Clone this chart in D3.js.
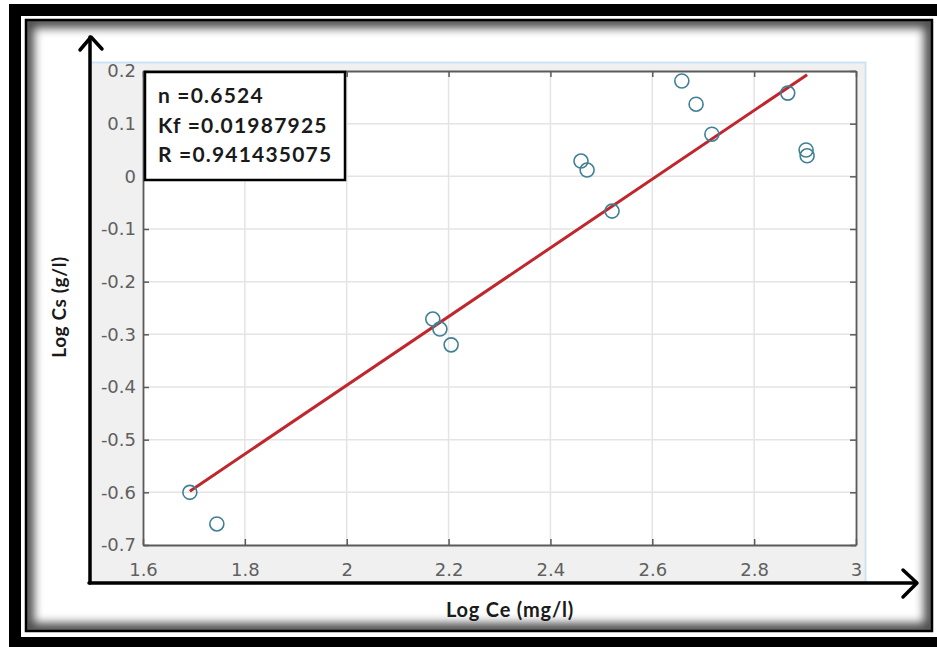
<!DOCTYPE html>
<html>
<head>
<meta charset="utf-8">
<script src="https://cdn.jsdelivr.net/npm/d3@7"></script>
<style>
  html, body { margin: 0; padding: 0; background: #fff; }
  svg { display: block; }
</style>
</head>
<body>
<svg id="chart"></svg>
<script>
// data
const logCe = [1.692, 1.745, 2.169, 2.183, 2.205, 2.460, 2.472, 2.521, 2.658, 2.686, 2.717, 2.866, 2.902, 2.904];
const logCs = [-0.600, -0.660, -0.271, -0.290, -0.320, 0.029, 0.012, -0.066, 0.181, 0.137, 0.080, 0.158, 0.050, 0.039];

const xTicks = [1.6, 1.8, 2, 2.2, 2.4, 2.6, 2.8, 3];
const yTicks = [-0.7, -0.6, -0.5, -0.4, -0.3, -0.2, -0.1, 0, 0.1, 0.2];

// freundlich fit
const fitN = 0.6524;
const fitKf = 0.01987925;
const fitR = 0.941435075;
const infoLines = ["n =" + fitN, "Kf =" + fitKf, "R =" + fitR];

const W = 937, H = 647;
const plot = { left: 143, right: 856, top: 71, bottom: 545 };

const svg = d3.select("#chart").attr("width", W).attr("height", H);
const defs = svg.append("defs");

// outer frame
svg.append("rect").attr("x", 9).attr("y", 4).attr("width", W - 9).attr("height", H - 4).attr("fill", "#000");
svg.append("rect").attr("x", 21).attr("y", 16).attr("width", W - 21).attr("height", 621).attr("fill", "#fff");

// inner frame with inset shadow
defs.append("clipPath").attr("id", "inner")
    .append("rect").attr("x", 27).attr("y", 21).attr("width", 904).attr("height", 609);
defs.append("filter").attr("id", "blur").attr("x", "-10%").attr("y", "-10%").attr("width", "120%").attr("height", "120%")
    .append("feGaussianBlur").attr("stdDeviation", 5);
svg.append("g").attr("clip-path", "url(#inner)")
    .append("rect").attr("x", 27).attr("y", 21).attr("width", 904).attr("height", 609)
    .attr("fill", "none").attr("stroke", "#000").attr("stroke-opacity", 0.7).attr("stroke-width", 14)
    .attr("filter", "url(#blur)");
svg.append("rect").attr("x", 26).attr("y", 20).attr("width", 906).attr("height", 611)
    .attr("fill", "none").attr("stroke", "#000").attr("stroke-width", 2.5);

// figure background (matlab grey)
svg.append("rect").attr("x", 91).attr("y", 62).attr("width", 775).attr("height", 520)
    .attr("fill", "#f0f0f0");
svg.append("path").attr("d", "M91,62.5H865.5V582")
    .attr("fill", "none").attr("stroke", "#cde3f3").attr("stroke-width", 2);

const x = d3.scaleLinear().domain([1.6, 3]).range([plot.left, plot.right]);
const y = d3.scaleLinear().domain([-0.7, 0.2]).range([plot.bottom, plot.top]);

svg.append("rect").attr("x", plot.left).attr("y", plot.top)
    .attr("width", plot.right - plot.left).attr("height", plot.bottom - plot.top).attr("fill", "#fff");

// grid
const grid = svg.append("g").attr("stroke", "#e4e4e4").attr("stroke-width", 1.5);
grid.selectAll(".gx").data(xTicks.slice(1, -1)).join("line")
    .attr("x1", d => x(d)).attr("x2", d => x(d)).attr("y1", plot.top).attr("y2", plot.bottom);
grid.selectAll(".gy").data(yTicks.slice(1, -1)).join("line")
    .attr("y1", d => y(d)).attr("y2", d => y(d)).attr("x1", plot.left).attr("x2", plot.right);

// axes (ticks inward, box on)
const tickFont = "'DejaVu Sans', sans-serif";
const axCol = "#5a5a5a";
const xAxis = svg.append("g").attr("transform", `translate(0,${plot.bottom})`)
    .call(d3.axisBottom(x).tickValues(xTicks).tickSizeInner(-6).tickSizeOuter(0).tickPadding(18).tickFormat(d3.format("")));
const yAxis = svg.append("g").attr("transform", `translate(${plot.left},0)`)
    .call(d3.axisLeft(y).tickValues(yTicks).tickSizeInner(-6).tickSizeOuter(0).tickPadding(7).tickFormat(d3.format("")));
const xTop = svg.append("g").attr("transform", `translate(0,${plot.top})`)
    .call(d3.axisTop(x).tickValues(xTicks).tickSizeInner(-6).tickSizeOuter(0).tickFormat(""));
const yRight = svg.append("g").attr("transform", `translate(${plot.right},0)`)
    .call(d3.axisRight(y).tickValues(yTicks).tickSizeInner(-6).tickSizeOuter(0).tickFormat(""));

[xAxis, yAxis, xTop, yRight].forEach(a => {
    a.select(".domain").attr("stroke", axCol).attr("stroke-width", 1.8);
    a.selectAll(".tick line").attr("stroke", axCol).attr("stroke-width", 1.5);
    a.selectAll(".tick text").attr("fill", "#606060").style("font-family", tickFont).style("font-size", "18px");
});
yAxis.selectAll(".tick text").text(d => d3.format("")(d).replace("−", "-"));

// fit line  log Cs = n log Ce + log Kf
const x0 = d3.min(logCe), x1 = d3.max(logCe);
const fit = [x0, x1].map(v => [v, fitN * v + Math.log10(fitKf)]);
svg.append("path").datum(fit)
    .attr("d", d3.line().x(d => x(d[0])).y(d => y(d[1])))
    .attr("stroke", "#c0272d").attr("stroke-width", 3).attr("fill", "none");

// data points
svg.append("g").selectAll("circle").data(logCe).join("circle")
    .attr("cx", d => x(d)).attr("cy", (d, i) => y(logCs[i])).attr("r", 7)
    .attr("fill", "none").attr("stroke", "#3f8093").attr("stroke-width", 1.6);

// annotation box
const boldFont = "Lato, 'Open Sans', sans-serif";
svg.append("rect").attr("x", 145).attr("y", 72).attr("width", 200).attr("height", 108)
    .attr("fill", "#fff").attr("stroke", "#000").attr("stroke-width", 2.5);
svg.append("g").selectAll("text").data(infoLines).join("text")
    .attr("x", 158).attr("y", (d, i) => 103 + i * 29.5)
    .style("font-family", boldFont).style("font-weight", "bold").style("font-size", "21px")
    .style("letter-spacing", "1.2px")
    .attr("fill", "#1a1a1a").text(d => d);

// arrows
const arrows = svg.append("g").attr("stroke", "#000").attr("fill", "none")
    .attr("stroke-width", 3.5).attr("stroke-linecap", "round").attr("stroke-linejoin", "round");
arrows.append("path").attr("d", "M90,583V37");
arrows.append("path").attr("d", "M80,50L91,37L102,49");
arrows.append("path").attr("d", "M89,583H916");
arrows.append("path").attr("d", "M903,570L917,583L903,597");

// axis titles
svg.append("text").attr("x", 510).attr("y", 617).attr("text-anchor", "middle")
    .style("font-family", boldFont).style("font-weight", "bold").style("font-size", "20px")
    .style("letter-spacing", "0.8px")
    .attr("fill", "#1a1a1a").text("Log Ce (mg/l)");
svg.append("text").attr("transform", "translate(66,307) rotate(-90)").attr("text-anchor", "middle")
    .style("font-family", boldFont).style("font-weight", "bold").style("font-size", "19px")
    .style("letter-spacing", "0.6px")
    .attr("fill", "#1a1a1a").text("Log Cs (g/l)");
</script>
</body>
</html>
